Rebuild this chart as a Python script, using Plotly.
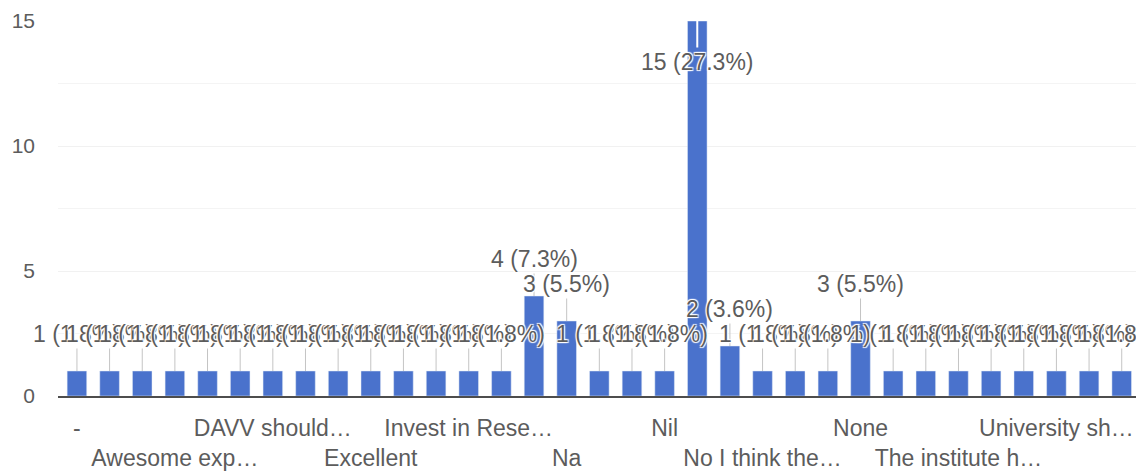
import plotly.graph_objects as go

# ---- data ----
categories = [
    "-", "Answer 02", "Answer 03", "Awesome exp…", "Answer 05", "Answer 06",
    "DAVV should…", "Answer 08", "Answer 09", "Excellent", "Answer 11", "Answer 12",
    "Invest in Rese…", "Answer 14", "Answer 15", "Na", "Answer 17", "Answer 18",
    "Nil", "No", "No comments", "No I think the…", "Answer 23", "Answer 24",
    "None", "Answer 26", "Answer 27", "The institute h…", "Answer 29", "Answer 30",
    "University sh…", "Answer 32", "Answer 33",
]
counts = [
    1, 1, 1, 1, 1, 1, 1, 1, 1, 1, 1, 1, 1, 1, 4, 3, 1, 1, 1, 15, 2,
    1, 1, 1, 3, 1, 1, 1, 1, 1, 1, 1, 1,
]
labelled_every = 3            # only every third category name is printed
y_ticks = [0, 5, 10, 15]

# ---- styling ----
BAR = "#4a72cc"
TXT = "#5c5c5c"
FONT = "Liberation Sans"
total = sum(counts)

fig = go.Figure(go.Bar(
    x=categories, y=counts, marker_color=BAR, width=0.6,
    hoverinfo="x+y",
))

# tick labels on two alternating rows
tick_vals = categories[::labelled_every]
tick_text = [t if k % 2 == 0 else "<br>" + t for k, t in enumerate(tick_vals)]

halo = ("1px 1px 1px white, -1px -1px 1px white, "
        "1px -1px 1px white, -1px 1px 1px white")
top = max(counts)
annotations = []
for cat, c in zip(categories, counts):
    inside = c == top
    annotations.append(dict(
        x=cat, y=c, xref="x", yref="y",
        text=f"{c} ({c / total * 100:.1f}%)",
        showarrow=True, arrowhead=0, arrowwidth=2 if inside else 1,
        arrowcolor="white" if inside else "#c4c4c4",
        ax=0, ay=41 if inside else -37, standoff=0,
        font=dict(family=FONT, size=23, color=TXT, shadow=halo),
    ))

# the page body adds an 8px offset, so the figure is 8px smaller than the window
fig.update_layout(
    width=1136, height=464,
    margin=dict(l=50, r=4, t=13, b=76, autoexpand=False),
    paper_bgcolor="white", plot_bgcolor="white",
    showlegend=False,
    font=dict(family=FONT, size=21, color=TXT),
    annotations=annotations,
    xaxis=dict(
        type="category", range=[-0.58, len(categories) - 0.44],
        tickmode="array", tickvals=tick_vals, ticktext=tick_text,
        showgrid=False, showline=True, linecolor="#4d4d4d", linewidth=2,
        ticks="", ticklabelstandoff=10, tickangle=0, automargin=False,
        tickfont=dict(family=FONT, size=23, color=TXT),
    ),
    yaxis=dict(
        range=[0, 15], tickmode="array", tickvals=y_ticks,
        showgrid=True, gridcolor="#f1f1f1", gridwidth=1,
        minor=dict(dtick=2.5, showgrid=True, gridcolor="#f4f4f4"),
        zeroline=False, showline=False, ticks="", automargin=False,
        ticklabelstandoff=22,
        tickfont=dict(family=FONT, size=21, color=TXT),
    ),
)

fig.write_html("out.html")
